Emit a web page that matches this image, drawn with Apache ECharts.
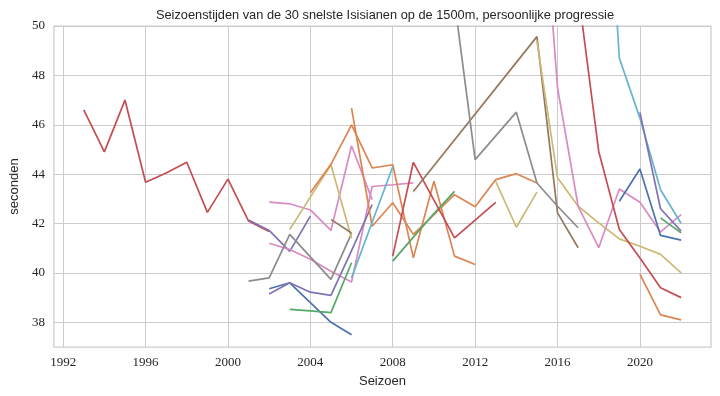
<!DOCTYPE html>
<html><head><meta charset="utf-8">
<script src="https://cdn.jsdelivr.net/npm/echarts@6/dist/echarts.min.js"></script>
<style>html,body{margin:0;padding:0;background:#fff}#c{width:720px;height:396px}</style>
</head><body><div id="c"></div>
<script>
// season, time (seconds) per athlete
const athlete01 = [[1993,46.6],[1994,44.9],[1995,47.0],[1996,43.67],[1997,44.05],[1998,44.48],[1999,42.45],[2000,43.8],[2001,42.1],[2002,41.68]];
const athlete02 = [[2001,42.14],[2002,41.72],[2003,40.87],[2004,42.3]];
const athlete03 = [[2002,42.87],[2003,42.8],[2004,42.55],[2005,41.72],[2006,45.15],[2007,42.97]];
const athlete04 = [[2002,41.2],[2003,40.95],[2004,40.55],[2005,40.07],[2006,39.63],[2007,43.5],[2008,43.57],[2009,43.65]];
const athlete05 = [[2001,39.67],[2002,39.8],[2003,41.56],[2004,40.65],[2005,39.74],[2006,41.6]];
const athlete06 = [[2002,39.36],[2003,39.6],[2004,38.8],[2005,38.0],[2006,37.5]];
const athlete07 = [[2002,39.15],[2003,39.6],[2004,39.22],[2005,39.09],[2006,40.9],[2007,42.77]];
const athlete08 = [[2003,38.52],[2004,38.46],[2005,38.39],[2006,40.41]];
const athlete09 = [[2003,41.76],[2004,43.07],[2005,44.38],[2006,41.4]];
const athlete10 = [[2004,43.25],[2005,44.4],[2006,46.0],[2007,44.25],[2008,44.38],[2009,40.61],[2010,43.71],[2011,40.68],[2012,40.34]];
const athlete11 = [[2006,46.67],[2007,41.89],[2008,42.84],[2009,41.56],[2010,42.36],[2011,43.17],[2012,42.68],[2013,43.78],[2014,44.02],[2015,43.64]];
const athlete12 = [[2006,39.8],[2007,42.05],[2008,44.3]];
const athlete13 = [[2005,42.17],[2006,41.62]];
const athlete14 = [[2008,40.48],[2009,41.45],[2010,42.4],[2011,43.3]];
const athlete15 = [[2008,40.68],[2009,44.48],[2010,42.95],[2011,41.42],[2012,42.14],[2013,42.86]];
const athlete16 = [[2009,43.3],[2015,49.57],[2016,42.43],[2017,41.02]];
const athlete17 = [[2011,51.0],[2012,44.59],[2013,45.55],[2014,46.51],[2015,43.64],[2016,42.7],[2017,41.83]];
const athlete18 = [[2013,43.71],[2014,41.85],[2015,43.27]];
const athlete19 = [[2015,49.4],[2016,43.85],[2017,42.7],[2018,42.03],[2019,41.38],[2020,41.08],[2021,40.75],[2022,40.0]];
const athlete20 = [[2015,58.5],[2016,47.5],[2017,42.7],[2018,41.02],[2019,43.4],[2020,42.86],[2021,41.66],[2022,42.36]];
const athlete21 = [[2017,51.4],[2018,44.92],[2019,41.76],[2020,40.6],[2021,39.4],[2022,39.0]];
const athlete22 = [[2018,62.0],[2019,48.7],[2020,46.27],[2021,43.37],[2022,42.0]];
const athlete23 = [[2019,42.9],[2020,44.21],[2021,41.52],[2022,41.33]];
const athlete24 = [[2020,46.5],[2021,42.6],[2022,41.69]];
const athlete25 = [[2021,42.23],[2022,41.62]];
const athlete26 = [[2020,39.95],[2021,38.3],[2022,38.1]];

const xTicks = [1992,1996,2000,2004,2008,2012,2016,2020];
const yTicks = [38,40,42,44,46,48,50];

const C = {blue:'#4C72B0',orange:'#DD8452',green:'#55A868',red:'#C44E52',purple:'#8172B3',brown:'#937860',pink:'#DA8BC3',gray:'#8C8C8C',olive:'#CCB974',cyan:'#64B5CD'};
const lines = [
  [athlete01,C.red],[athlete02,C.purple],[athlete03,C.pink],[athlete04,C.pink],[athlete05,C.gray],
  [athlete06,C.blue],[athlete07,C.purple],[athlete08,C.green],[athlete09,C.olive],[athlete10,C.orange],
  [athlete11,C.orange],[athlete12,C.cyan],[athlete13,C.brown],[athlete14,C.green],[athlete15,C.red],
  [athlete16,C.brown],[athlete17,C.gray],[athlete18,C.olive],[athlete19,C.olive],[athlete20,C.pink],
  [athlete21,C.red],[athlete22,C.cyan],[athlete23,C.blue],[athlete24,C.purple],[athlete25,C.green],[athlete26,C.orange]
];

const chart = echarts.init(document.getElementById('c'), null, {renderer:'canvas'});
const sansFont = '"Liberation Sans", "DejaVu Sans", sans-serif';
const serifFont = '"Liberation Serif", "DejaVu Serif", serif';
chart.setOption({
  animation: false,
  backgroundColor: '#ffffff',
  title: {
    text: 'Seizoenstijden van de 30 snelste Isisianen op de 1500m, persoonlijke progressie',
    left: 380, top: 4, textAlign: 'center',
    textStyle: {fontFamily: sansFont, fontSize: 12.8, fontWeight: 'normal', color: '#262626'}
  },
  grid: {left: 49, right: 9, top: 26, bottom: 49, show: true, borderColor: '#cccccc', borderWidth: 1.25, containLabel: false},
  xAxis: {
    type: 'value', min: 1991.55, max: 2023.45,
    name: 'Seizoen', nameLocation: 'middle', nameGap: 28,
    nameTextStyle: {fontFamily: sansFont, fontSize: 13, color: '#262626'},
    axisLine: {show: false},
    axisTick: {show: false, customValues: xTicks},
    axisLabel: {customValues: xTicks, formatter: v => String(Math.round(v)), fontFamily: serifFont, fontSize: 13, color: '#262626', margin: 9},
    splitLine: {show: true, lineStyle: {color: '#cccccc', width: 1}}
  },
  yAxis: {
    type: 'value', min: 37, max: 50,
    name: 'seconden', nameLocation: 'middle', nameGap: 31,
    nameTextStyle: {fontFamily: sansFont, fontSize: 13, color: '#262626'},
    axisLine: {show: false},
    axisTick: {show: false, customValues: yTicks},
    axisLabel: {customValues: yTicks, formatter: v => String(Math.round(v)), fontFamily: serifFont, fontSize: 13, color: '#262626', margin: 9},
    splitLine: {show: true, lineStyle: {color: '#cccccc', width: 1}}
  },
  series: lines.map(([data, color]) => ({
    type: 'line', data: data, showSymbol: false, symbol: 'none', clip: true,
    lineStyle: {color: color, width: 1.7}, itemStyle: {color: color}
  }))
});
</script></body></html>
